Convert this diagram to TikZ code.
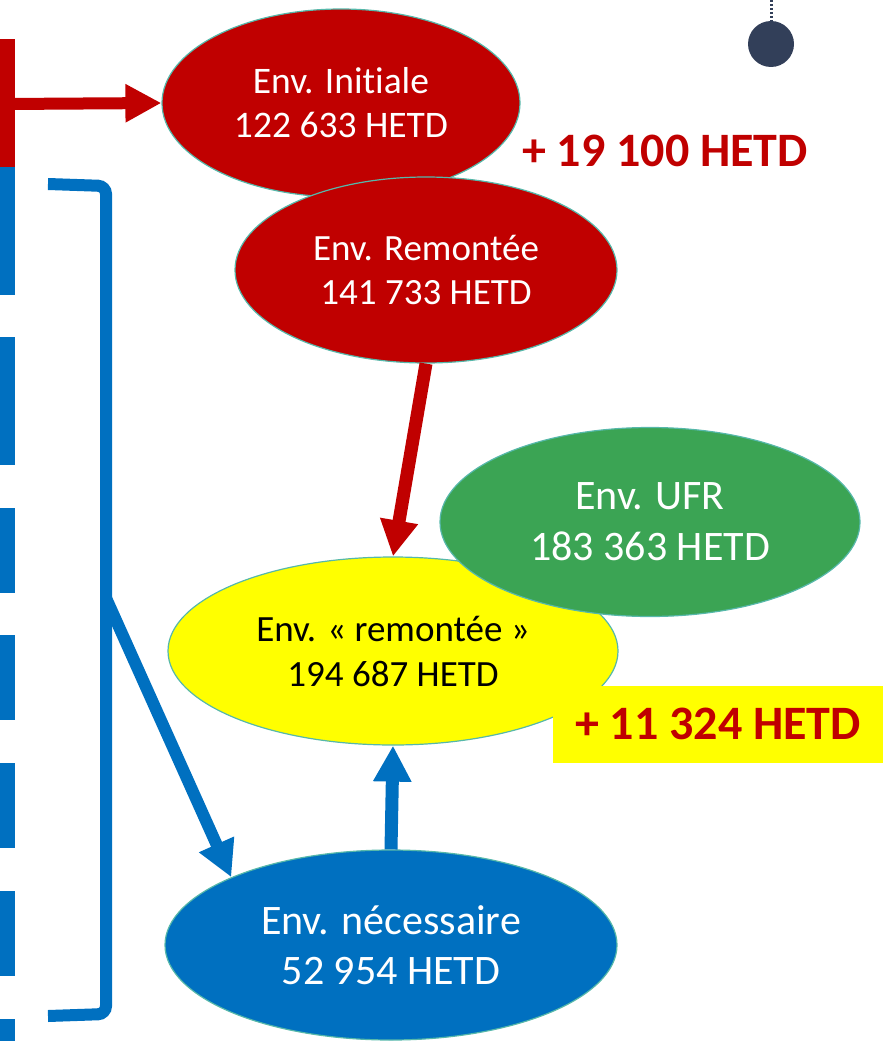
\documentclass[tikz,border=0pt]{standalone}
\usepackage{fontspec}
\setmainfont{Carlito}[Ligatures=NoCommon]
\usetikzlibrary{shapes.geometric,arrows.meta}

\definecolor{envred}{RGB}{192,0,0}
\definecolor{envblue}{RGB}{0,112,192}
\definecolor{envgreen}{RGB}{59,164,84}
\definecolor{envyellow}{RGB}{255,255,0}
\definecolor{rim}{RGB}{86,184,170}
\definecolor{navy}{RGB}{50,63,89}

\begin{document}
\begin{tikzpicture}[
        x = 1pt, y = -1pt, % one unit per pixel, y downwards
        > = {Triangle[length=36pt,width=36pt]}, % arrow head style
        node distance = 2cm
      ]

      \tikzstyle{env}=[ellipse, draw=rim, line width=1.2pt, inner sep=0pt, align=center, text=white, font=\fontsize{37.5}{44}\selectfont]
      \tikzstyle{gain}=[text=envred, font=\fontsize{48}{54}\selectfont\bfseries]

      \useasboundingbox (0,0) rectangle (883,1041);

      % side strip
      \fill[envred] (0,39) rectangle (15,167);
      \foreach \ya/\yb in {167/295, 337/465, 508/593, 635/720, 763/848, 891/976, 1019/1041}
        \fill[envblue] (0,\ya) rectangle (15,\yb);

      % bracket
      \draw[envblue, line width=12pt, rounded corners=8pt] (48,184) -- (106,186) -- (106,1014) -- (48,1016);
      \coordinate (brk) at (106,598);
      \coordinate (redin) at (5,104);

      \node[env, fill=envred, minimum width=358pt, minimum height=188pt] (ini) at (341,103) {Env. Initiale\\122 633 HETD};
      \node[env, fill=envred, minimum width=382pt, minimum height=186pt, font=\fontsize{37}{44}\selectfont] (rem) [below of=ini, node distance=167pt, xshift=85pt] {Env. Remontée\\141 733 HETD};
      \node[env, fill=envyellow, text=black, minimum width=450pt, minimum height=188pt, font=\fontsize{37}{45}\selectfont] (yel) [below of=rem, node distance=381pt, xshift=-33pt] {Env. « remontée »\\194 687 HETD};
      \node[env, fill=envgreen, minimum width=420pt, minimum height=189pt, font=\fontsize{42}{51}\selectfont] (ufr) [below of=rem, node distance=252pt, xshift=224pt] {Env. UFR\\183 363 HETD};
      \node[gain, fill=envyellow, minimum width=330pt, minimum height=77pt, inner sep=0pt] (g11) [right of=yel, node distance=325pt, yshift=-73pt] {+ 11 324 HETD};
      \node[gain] (g19) [right of=ini, node distance=324pt, yshift=-48pt] {+ 19 100 HETD};
      \node[env, fill=envblue, minimum width=452pt, minimum height=190pt, font=\fontsize{42}{50}\selectfont] (nec) [below of=yel, node distance=294pt, xshift=-2pt] {Env. nécessaire\\52 954 HETD};

      % connectors
      \draw[->, envred, line width=12pt] (redin) -- (ini.west);
      \draw[->, envred, line width=13pt] (rem.south) -- (yel.north);
      \draw[->, envblue, line width=12pt] (brk) -- (nec.157);
      \draw[->, envblue, line width=13pt] (nec.north) -- (yel.south);

      % dot
      \node[circle, fill=navy, minimum size=46pt, inner sep=0pt] (dot) at (771,44) {};
      \draw[navy, line width=3pt, dash pattern=on 2pt off 2pt] (771,0) -- (dot.north);

    \end{tikzpicture}
\end{document}
